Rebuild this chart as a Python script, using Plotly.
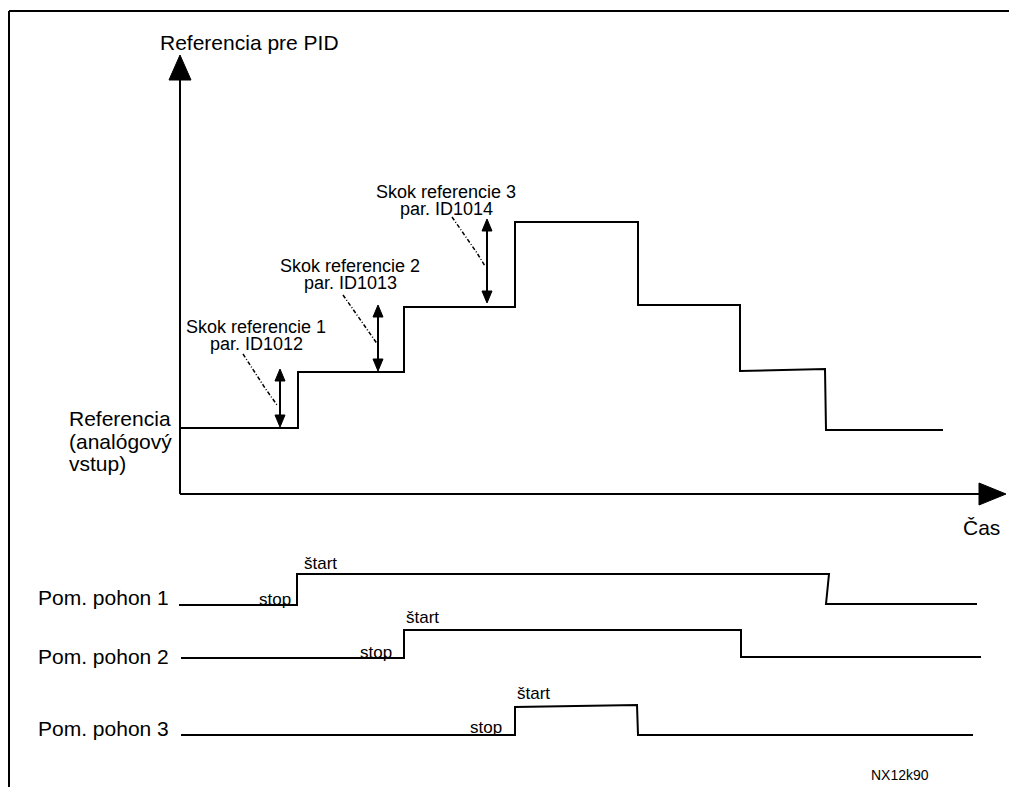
import plotly.graph_objects as go

W, H = 1017, 787
PAD = 8  # page body margin the figure sits in
FONT = "Liberation Sans, Arial, sans-serif"

# reference for PID (time, level) in canvas units
ref_t = [180, 298, 298, 404, 404, 515, 515, 638, 638, 740, 740, 825, 826, 943]
ref_y = [428, 428, 372, 372, 307, 307, 222, 222, 305, 305, 371, 369, 430, 430]

# auxiliary drives (stop / start)
p1_t = [179, 297, 297, 829, 826, 977]
p1_y = [605, 605, 574, 574, 604, 604]
p2_t = [181, 404, 404, 741, 741, 981]
p2_y = [658, 658, 630, 630, 657, 657]
p3_t = [181, 515, 515, 637, 638, 973]
p3_y = [735, 735, 707, 705, 735, 735]

# reference step arrows
step_x = [280, 378, 487]
step_lo = [427, 371, 303]
step_hi = [369, 305, 219]
step_labels = ["Skok referencie 1", "Skok referencie 2", "Skok referencie 3"]
step_pars = ["par. ID1012", "par. ID1013", "par. ID1014"]
step_label_x = [256, 350, 446]
step_label_y = [327, 266, 192]

# dashed leader lines from labels to arrows
lead_x = [[243, 265, 277], [343, 368, 378], [452, 477, 485]]
lead_y = [[354, 388, 405], [295, 330, 345], [217, 253, 266]]

drive_labels = ["Pom. pohon 1", "Pom. pohon 2", "Pom. pohon 3"]
drive_label_y = [597, 656, 728]
stop_x = [275, 376, 486]
stop_y = [599, 652, 727]
start_x = [320, 422, 533]
start_y = [563, 617, 693]

# axes
y_axis_x, y_axis_top, y_axis_bottom = 180, 55, 494
x_axis_y, x_axis_right = 494, 1006

fig = go.Figure()


def line(x, y, width=2, dash=None):
    fig.add_trace(go.Scatter(x=x, y=y, mode="lines", hoverinfo="skip",
                             line=dict(color="black", width=width, dash=dash)))


def tri(x, y):
    fig.add_trace(go.Scatter(x=x + [x[0]], y=y + [y[0]], mode="lines", fill="toself",
                             fillcolor="black", hoverinfo="skip",
                             line=dict(color="black", width=1)))


def text(x, y, s, size=21, anchor="left"):
    fig.add_annotation(x=x, y=y, text=s, showarrow=False, xanchor=anchor, yanchor="middle",
                       font=dict(family=FONT, size=size, color="black"))


# frame
line([9, W], [11, 11])
line([9, 9], [11, H])

# axes with arrow heads
line([y_axis_x, y_axis_x], [y_axis_bottom, y_axis_top + 20])
tri([y_axis_x - 11, y_axis_x, y_axis_x + 11], [y_axis_top + 25, y_axis_top, y_axis_top + 25])
line([y_axis_x, x_axis_right - 20], [x_axis_y, x_axis_y])
tri([x_axis_right - 27, x_axis_right, x_axis_right - 27], [x_axis_y - 11, x_axis_y, x_axis_y + 11])

# signals
line(ref_t, ref_y)
line(p1_t, p1_y)
line(p2_t, p2_y)
line(p3_t, p3_y)

# double arrows for reference steps
for x, lo, hi in zip(step_x, step_lo, step_hi):
    line([x, x], [lo - 8, hi + 8])
    tri([x - 5, x, x + 5], [hi + 12, hi, hi + 12])
    tri([x - 5, x, x + 5], [lo - 12, lo, lo - 12])

for lx, ly in zip(lead_x, lead_y):
    line(lx, ly, width=1.5, dash="4px,2px,1px,2px")

for x, y, s, p in zip(step_label_x, step_label_y, step_labels, step_pars):
    text(x, y, s, size=18, anchor="center")
    text(x, y + 17, p, size=18, anchor="center")

# texts
text(158, 42, "Referencia pre PID")
text(961, 527, "Čas")
text(67, 418, "Referencia")
text(67, 441, "(analógový")
text(67, 463, "vstup)")
for y, s in zip(drive_label_y, drive_labels):
    text(36, y, s)
for x, y in zip(stop_x, stop_y):
    text(x, y, "stop", size=17, anchor="center")
for x, y in zip(start_x, start_y):
    text(x, y, "štart", size=17, anchor="center")
text(900, 775, "NX12k90", size=14, anchor="center")

fig.update_layout(
    width=W, height=H,
    margin=dict(l=0, r=0, t=0, b=0),
    paper_bgcolor="white", plot_bgcolor="white",
    showlegend=False,
    xaxis=dict(range=[PAD, W + PAD], visible=False, fixedrange=True),
    yaxis=dict(range=[H + PAD, PAD], visible=False, fixedrange=True),
)
fig.write_html("out.html")
